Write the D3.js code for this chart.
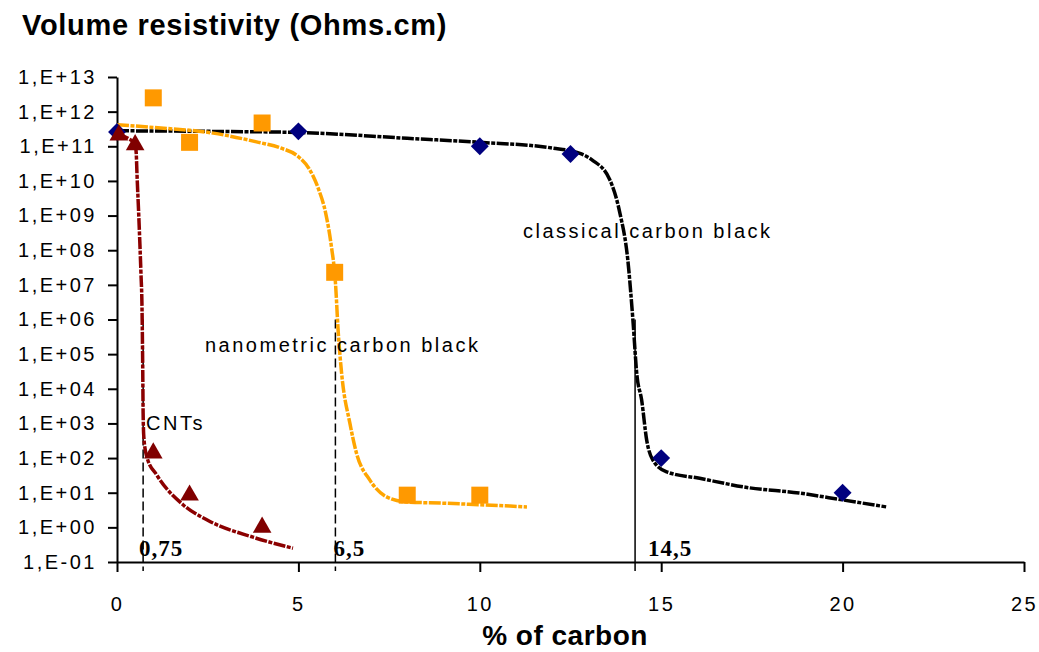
<!DOCTYPE html>
<html>
<head>
<meta charset="utf-8">
<script src="https://cdn.jsdelivr.net/npm/d3@7"></script>
<style>
  body { margin: 0; background: #fff; }
  svg { display: block; font-family: "Liberation Sans", Arial, sans-serif; }
  .axis path, .axis line { stroke: #000; stroke-width: 2; }
  .axis text { font-size: 20px; letter-spacing: 2.5px; fill: #000; }
  .series-label { font-size: 20px; letter-spacing: 2.5px; }
  .cut-label { font-family: "Liberation Serif", "Times New Roman", serif; font-weight: bold; font-size: 23px; letter-spacing: 1px; }
</style>
</head>
<body>
<div id="layout"></div>
<script>
// measured markers
var classicalX = [0, 5, 10, 12.5, 15, 20],
    classicalY = [2.6e11, 2.7e11, 1.0e11, 6e10, 1.0e2, 1.0e1];

var nanoX = [1, 2, 4, 6, 8, 10],
    nanoY = [2.5e12, 1.3e11, 4.7e11, 2.3e7, 8.5, 8.5];

var cntX = [0.05, 0.5, 1, 2, 4],
    cntY = [2.1e11, 1.1e11, 1.4e2, 8.5, 1.0];

// trend curves
var classicalFitX = [0, 2.5, 5, 8, 10, 12, 12.8, 13.1, 13.58, 13.86, 14.08, 14.22, 14.33, 14.46, 14.6, 14.77, 15.15, 16.06, 17.4, 18.8, 20, 21.2],
    classicalFitY = [2.8e11, 2.7e11, 2.5e11, 1.7e11, 1.3e11, 8.9e10, 6e10, 4e10, 1.1e10, 1.2e9, 5.2e7, 9.8e5, 2.5e4, 4.8e3, 3.3e2, 87, 40, 26, 14, 9.8, 6.2, 3.9];

var nanoFitX = [0, 1, 2.65, 3.9, 4.5, 5.0, 5.3, 5.55, 5.75, 5.9, 6.02, 6.1, 6.19, 6.42, 6.6, 6.97, 7.43, 7.98, 8.98, 10, 11.3],
    nanoFitY = [4.2e11, 3.5e11, 2.4e11, 1.3e11, 9e10, 5e10, 2.2e10, 6e9, 1.2e9, 1.5e8, 1.2e7, 4e5, 2.9e4, 1e3, 1.4e2, 23, 7.6, 5.4, 5.0, 4.5, 3.9];

var cntFitX = [0, 0.3, 0.5, 0.53, 0.55, 0.6, 0.63, 0.66, 0.69, 0.71, 0.72, 0.74, 0.82, 1.1, 1.82, 2.5, 3.75, 4.85],
    cntFitY = [2.2e11, 1.7e11, 1.1e11, 6.3e10, 1.7e10, 1e9, 1.6e8, 2.2e7, 2e6, 3.2e4, 2e3, 4e2, 1.1e2, 32, 4.5, 1.6, 0.52, 0.25];

// percolation thresholds
var thresholdX = [0.72, 6.02, 14.28],
    thresholdLabels = ["0,75", "6,5", "14,5"],
    thresholdTop = 1e6;

var xTicks = [0, 5, 10, 15, 20, 25],
    yTicks = [1e-1, 1e0, 1e1, 1e2, 1e3, 1e4, 1e5, 1e6, 1e7, 1e8, 1e9, 1e10, 1e11, 1e12, 1e13],
    yTickLabels = ["1,E-01", "1,E+00", "1,E+01", "1,E+02", "1,E+03", "1,E+04", "1,E+05", "1,E+06",
                   "1,E+07", "1,E+08", "1,E+09", "1,E+10", "1,E+11", "1,E+12", "1,E+13"];

var outerWidth = 1039,
    outerHeight = 652,
    plot = { left: 117, right: 1024, top: 77, bottom: 562 };

const zip = (xs, ys) => xs.map((x, i) => ({ x: x, y: ys[i] }));

drawChart = () => {
    const svg = d3.select("#layout")
                  .append("svg")
                  .attr("width", outerWidth)
                  .attr("height", outerHeight);

    var xScale = d3.scaleLinear()
                   .domain([0, 25])
                   .range([plot.left, plot.right]);

    var yScale = d3.scaleLog()
                   .domain([1e-1, 1e13])
                   .range([plot.bottom, plot.top]);

    // Title
    svg.append("text")
       .attr("x", 22)
       .attr("y", 35)
       .attr("font-size", "29px")
       .attr("font-weight", "bold")
       .attr("letter-spacing", "0.7px")
       .text("Volume resistivity (Ohms.cm)");

    // threshold lines
    const dashes = ["9,4", "9,4", null];
    const labelOffset = [-4, -2, 13];
    svg.selectAll(".cut")
       .data(thresholdX)
       .enter()
       .append("line")
       .attr("class", "cut")
       .attr("x1", d => xScale(d))
       .attr("x2", d => xScale(d))
       .attr("y1", yScale(thresholdTop))
       .attr("y2", plot.bottom + 9)
       .attr("stroke", "#000")
       .attr("stroke-width", 1.5)
       .attr("stroke-dasharray", (d, i) => dashes[i]);

    svg.selectAll(".cut-label")
       .data(thresholdX)
       .enter()
       .append("text")
       .attr("class", "cut-label")
       .attr("x", (d, i) => xScale(d) + labelOffset[i])
       .attr("y", plot.bottom - 6)
       .text((d, i) => thresholdLabels[i]);

    // Axes
    var xAxis = d3.axisBottom(xScale)
                  .tickValues(xTicks)
                  .tickSize(10)
                  .tickSizeOuter(0)
                  .tickPadding(25);

    svg.append("g")
       .attr("class", "x axis")
       .attr("transform", "translate(0," + plot.bottom + ")")
       .call(xAxis);

    var yAxis = d3.axisLeft(yScale)
                  .tickValues(yTicks)
                  .tickFormat((d, i) => yTickLabels[i])
                  .tickSize(9)
                  .tickSizeOuter(0)
                  .tickPadding(11);

    svg.append("g")
       .attr("class", "y axis")
       .attr("transform", "translate(" + plot.left + ",0)")
       .call(yAxis);

    svg.selectAll(".axis text").attr("font-family", null).attr("font-size", null);

    svg.append("text")
       .attr("x", 565)
       .attr("y", 645)
       .attr("text-anchor", "middle")
       .attr("font-size", "28px")
       .attr("font-weight", "bold")
       .attr("letter-spacing", "0.5px")
       .text("% of carbon");

    // Trend curves
    const line = d3.line()
                   .x(d => xScale(d.x))
                   .y(d => yScale(d.y))
                   .curve(d3.curveMonotoneX);

    const fits = [
      { pts: zip(classicalFitX, classicalFitY), color: "#000000" },
      { pts: zip(nanoFitX, nanoFitY), color: "#ffa500" },
      { pts: zip(cntFitX, cntFitY), color: "#8b0000" }
    ];

    svg.selectAll(".fit")
       .data(fits)
       .enter()
       .append("path")
       .attr("class", "fit")
       .attr("d", d => line(d.pts))
       .attr("fill", "none")
       .attr("stroke", d => d.color)
       .attr("stroke-width", 3.5)
       .attr("stroke-dasharray", "12,1.5,4,1.5");

    // Markers
    const markers = [
      { pts: zip(classicalX, classicalY), color: "#00007f", shape: d3.symbolSquare, size: 160, rot: 45 },
      { pts: zip(nanoX, nanoY), color: "#ff9900", shape: d3.symbolSquare, size: 289, rot: 0 },
      { pts: zip(cntX, cntY), color: "#800000", shape: d3.symbolTriangle, size: 150, rot: 0 }
    ];

    markers.forEach(m => {
      svg.append("g")
         .selectAll("path")
         .data(m.pts)
         .enter()
         .append("path")
         .attr("d", d3.symbol().type(m.shape).size(m.size))
         .attr("transform", d => "translate(" + xScale(d.x) + "," + yScale(d.y) + ") rotate(" + m.rot + ")")
         .attr("fill", m.color);
    });

    // Series labels
    const labels = [
      { text: "classical carbon black", x: 523, y: 238 },
      { text: "nanometric carbon black", x: 205, y: 352 },
      { text: "CNTs", x: 146, y: 430 }
    ];

    svg.selectAll(".series-label")
       .data(labels)
       .enter()
       .append("text")
       .attr("class", "series-label")
       .attr("x", d => d.x)
       .attr("y", d => d.y)
       .text(d => d.text);
}

drawChart();
</script>
</body>
</html>
